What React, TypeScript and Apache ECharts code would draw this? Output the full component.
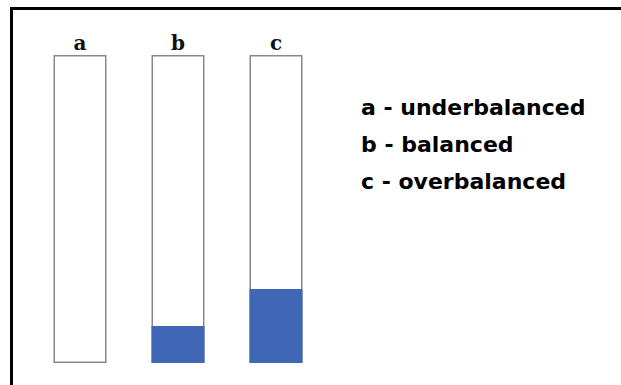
import React, { useEffect, useRef } from "react";
import * as echarts from "echarts";

const categories = ["a", "b", "c"];
const tubeValues = [100, 100, 100];
const fillValues = [0, 12, 24];
const legendLabels = ["a - underbalanced", "b - balanced", "c - overbalanced"];

export default function App() {
  const ref = useRef<HTMLDivElement>(null);
  useEffect(() => {
    if (!ref.current) return;
    const chart = echarts.init(ref.current, null, { renderer: "svg" });
    chart.setOption({
      animation: false,
      backgroundColor: "#ffffff",
      grid: { left: 31, top: 55, width: 294, bottom: 22 },
      xAxis: {
        type: "category",
        data: categories,
        position: "top",
        axisLine: { show: false },
        axisTick: { show: false },
        axisLabel: {
          margin: 2,
          fontFamily: "DejaVu Serif",
          fontWeight: "bold",
          fontSize: 20,
          color: "#111",
        },
      },
      yAxis: { type: "value", min: 0, max: 100, show: false, splitLine: { show: false } },
      series: [
        {
          type: "bar",
          data: tubeValues,
          barWidth: 53,
          barGap: "-100%",
          itemStyle: { color: "#ffffff", borderColor: "#888888", borderWidth: 1.5 },
          silent: true,
        },
        {
          type: "bar",
          data: fillValues,
          barWidth: 53,
          itemStyle: { color: "#3f67b5" },
          silent: true,
        },
      ],
      graphic: [
        { type: "rect", shape: { x: 10, y: 7, width: 611, height: 3 }, style: { fill: "#000" } },
        { type: "rect", shape: { x: 10, y: 7, width: 3, height: 378 }, style: { fill: "#000" } },
        ...legendLabels.map((t, i) => ({
          type: "text",
          x: 361,
          y: 96 + i * 37,
          style: {
            text: t,
            fontFamily: "DejaVu Sans",
            fontWeight: "bold",
            fontSize: 22,
            fill: "#000",
          },
        })),
      ],
    });
    return () => chart.dispose();
  }, []);
  return (
    <div
      ref={ref}
      style={{ position: "fixed", left: 0, top: 0, width: 621, height: 385 }}
    />
  );
}
